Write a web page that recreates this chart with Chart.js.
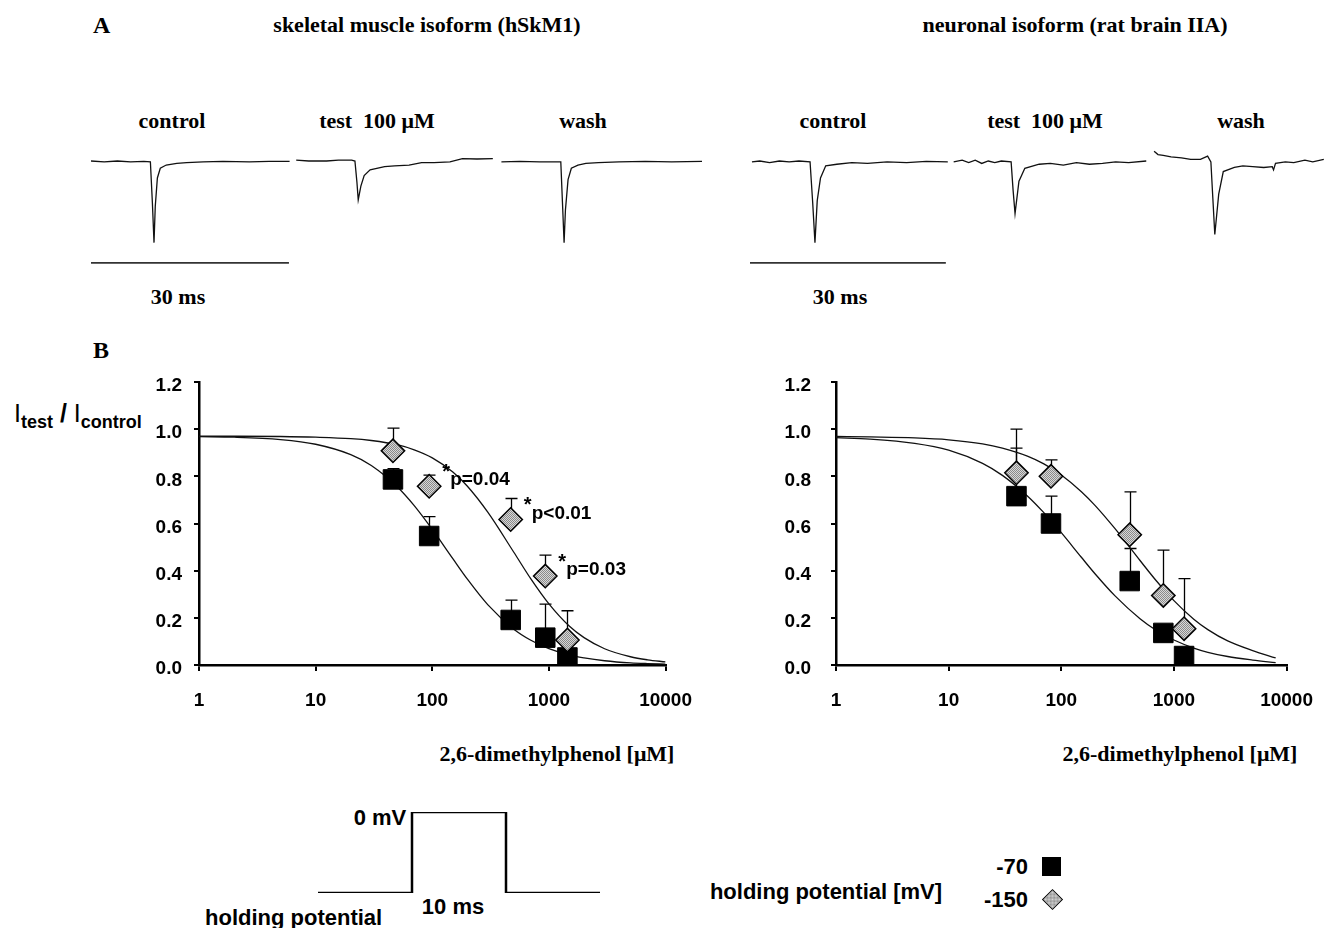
<!DOCTYPE html>
<html>
<head>
<meta charset="utf-8">
<script src="https://cdn.jsdelivr.net/npm/chart.js@4.4.1/dist/chart.umd.min.js"></script>
<style>
  html, body { margin:0; padding:0; background:#fff; }
  body { width:1331px; height:928px; position:relative; overflow:hidden; }
  canvas { position:absolute; }
  .t { position:absolute; white-space:nowrap; line-height:1; color:#000; }
  .serif { font-family:'Liberation Serif','Times New Roman',serif; font-weight:bold; font-size:22px; }
  .sans { font-family:'Liberation Sans',Arial,sans-serif; font-weight:bold; }
  .c { transform:translate(-50%,-50%); }
  .r { transform:translate(-100%,-50%); }
  .l { transform:translate(0,-50%); }
</style>
</head>
<body>
<!-- Panel A text -->
<div class="t serif l" style="left:93px;top:25px;font-size:24px;">A</div>
<div class="t serif c" style="left:427px;top:25px;">skeletal muscle isoform (hSkM1)</div>
<div class="t serif c" style="left:1075px;top:25px;">neuronal isoform (rat brain IIA)</div>
<div class="t serif c" style="left:172px;top:121px;">control</div>
<div class="t serif c" style="left:377px;top:121px;">test&nbsp;&nbsp;100 μM</div>
<div class="t serif c" style="left:583px;top:121px;">wash</div>
<div class="t serif c" style="left:833px;top:121px;">control</div>
<div class="t serif c" style="left:1045px;top:121px;">test&nbsp;&nbsp;100 μM</div>
<div class="t serif c" style="left:1241px;top:121px;">wash</div>
<div class="t serif c" style="left:178px;top:297px;">30 ms</div>
<div class="t serif c" style="left:840px;top:297px;">30 ms</div>
<!-- Panel B text -->
<div class="t serif l" style="left:93px;top:350px;font-size:24px;">B</div>
<div class="t" style="left:14px;top:401px;font-family:'Liberation Sans',Arial,sans-serif;font-size:25px;">I<sub style="font-size:18px;font-weight:bold;">test</sub> <b>/</b> I<sub style="font-size:18px;font-weight:bold;">control</sub></div>
<div class="t serif c" style="left:557px;top:754px;">2,6-dimethylphenol [μM]</div>
<div class="t serif c" style="left:1180px;top:754px;">2,6-dimethylphenol [μM]</div>
<!-- protocol text -->
<div class="t sans c" style="left:380px;top:818px;font-size:22px;">0 mV</div>
<div class="t sans c" style="left:453px;top:907px;font-size:22px;">10 ms</div>
<div class="t sans l" style="left:205px;top:918px;font-size:22px;">holding potential</div>
<!-- legend -->
<div class="t sans c" style="left:826px;top:892px;font-size:22px;">holding potential [mV]</div>
<div class="t sans r" style="left:1028px;top:867px;font-size:22px;">-70</div>
<div class="t sans r" style="left:1028px;top:900px;font-size:22px;">-150</div>
<div style="position:absolute;left:1042px;top:857px;width:19px;height:19px;background:#000;"></div>
<div style="position:absolute;left:1045px;top:892px;width:15px;height:15px;box-sizing:border-box;border:1.5px solid #000;transform:rotate(45deg);background:repeating-conic-gradient(#8a8a8a 0 25%, #d8d8d8 0 50%) 0 0/2px 2px;"></div>

<canvas id="trL" width="611" height="139" style="left:91px;top:140px;"></canvas>
<canvas id="trR" width="581" height="139" style="left:750px;top:140px;"></canvas>
<canvas id="cL" width="610" height="374" style="left:100px;top:348px;"></canvas>
<canvas id="cR" width="591" height="374" style="left:740px;top:348px;"></canvas>
<canvas id="proto" width="286" height="90" style="left:316px;top:808px;"></canvas>

<script>
// ---------------- DATA ----------------
// Panel A traces: time [ms], normalized current
const ctrlL_t = [0, 2, 4, 6, 8, 9.0, 9.3, 9.55, 9.74, 10.06, 10.5, 11.4, 13, 14.5, 17, 20, 24, 27, 30.1];
const ctrlL_i = [0.01, 0, 0.01, 0, 0.005, 0, -0.5, -1.0, -0.55, -0.2, -0.08, -0.04, -0.02, -0.01, 0, 0.005, 0, 0.005, 0.005];
const testL_t = [31.1, 33, 35.7, 37.5, 39.5, 40.0, 40.3, 40.5, 40.9, 41.4, 42.3, 44.5, 46, 48.2, 50.1, 52, 54.4, 56.3, 58.5, 60.9];
const testL_i = [0.02, 0.01, 0.01, 0.02, 0.02, 0.01, -0.25, -0.47, -0.3, -0.17, -0.1, -0.06, -0.05, -0.04, -0.01, -0.01, 0.0, 0.04, 0.035, 0.04];
const washL_t = [62.2, 65, 68, 71.2, 71.45, 71.7, 71.9, 72.3, 72.8, 73.8, 75, 76.9, 80, 84, 88, 92.6];
const washL_i = [0, 0.005, 0, 0, -0.5, -1.0, -0.6, -0.22, -0.08, -0.04, -0.02, -0.01, 0, 0.005, 0, 0.005];

const ctrlR_t = [0.3, 1.5, 3, 4.5, 6, 7.5, 9.2, 9.6, 9.95, 10.3, 10.8, 11.6, 13.3, 15.6, 18, 21, 24, 27, 30.3];
const ctrlR_i = [0.0, 0.01, -0.01, 0.01, 0.0, 0.01, 0.0, -0.5, -1.0, -0.48, -0.2, -0.05, -0.03, -0.01, -0.02, 0.0, -0.01, 0.005, 0.0];
const testR_t = [31.2, 32.5, 33.5, 34.5, 35.5, 36.5, 37.5, 38.5, 40.0, 40.3, 40.6, 41.2, 42.1, 44.3, 46, 48, 50, 52, 54, 56, 58, 60.7];
const testR_i = [0.0, 0.02, -0.01, 0.02, -0.02, 0.01, -0.01, 0.01, 0.0, -0.35, -0.64, -0.24, -0.08, -0.03, -0.02, -0.04, -0.01, -0.03, -0.02, 0.0, -0.01, 0.01];
const washR_t = [61.9, 62.5, 63.3, 64.5, 66.1, 67.5, 69.0, 70.1, 70.6, 70.9, 71.2, 71.8, 72.5, 74.2, 75.5, 77.0, 78.7, 80.0, 80.2, 80.5, 82, 83.3, 85, 86.2, 87.9];
const washR_i = [0.13, 0.09, 0.08, 0.06, 0.05, 0.03, 0.03, 0.07, 0.0, -0.45, -0.9, -0.4, -0.12, -0.07, -0.05, -0.06, -0.07, -0.06, -0.1, -0.02, 0.0, -0.01, 0.02, 0.0, 0.03];

const scaleBar_t = [0, 30];       // 30 ms
const scaleBar_i = [-1.25, -1.25];

// Panel B: concentrations [µM] and I_test/I_control
const concL = [46, 94, 470, 930, 1440];
const sqL = [0.787, 0.547, 0.191, 0.116, 0.032];
const sqErrL = [0.833, 0.629, 0.275, 0.258, null];
const diaL = [0.908, 0.758, 0.617, 0.377, 0.106];
const diaErrL = [1.004, 0.805, 0.706, 0.466, 0.23];

const concR = [40, 81, 405, 805, 1230];
const sqR = [0.716, 0.60, 0.356, 0.136, 0.038];
const sqErrR = [0.92, 0.716, 0.494, null, null];
const diaR = [0.815, 0.80, 0.552, 0.295, 0.154];
const diaErrR = [1.0, 0.87, 0.734, 0.487, 0.366];

// fitted curves
const curveXL = [1, 2, 5, 10, 20, 30, 50, 70, 100, 150, 200, 300, 500, 700, 1000, 1500, 2000, 3000, 5000, 7000, 10000];
const curveLowL = [0.968, 0.966, 0.956, 0.936, 0.892, 0.846, 0.756, 0.676, 0.575, 0.451, 0.364, 0.255, 0.152, 0.105, 0.069, 0.042, 0.030, 0.018, 0.009, 0.006, 0.004];
const curveHighL = [0.970, 0.970, 0.969, 0.966, 0.960, 0.952, 0.934, 0.912, 0.878, 0.818, 0.758, 0.647, 0.478, 0.365, 0.259, 0.164, 0.116, 0.069, 0.035, 0.022, 0.013];
const curveXR = [1, 2, 5, 10, 20, 30, 50, 70, 100, 150, 200, 300, 500, 700, 1000, 1500, 2000, 3000, 5000, 8000];
const curveLowR = [0.964, 0.958, 0.940, 0.911, 0.855, 0.804, 0.717, 0.646, 0.561, 0.458, 0.386, 0.293, 0.196, 0.146, 0.106, 0.072, 0.054, 0.036, 0.021, 0.010];
const curveHighR = [0.969, 0.967, 0.963, 0.955, 0.938, 0.920, 0.886, 0.853, 0.806, 0.736, 0.676, 0.578, 0.443, 0.356, 0.273, 0.194, 0.150, 0.102, 0.061, 0.030];

const noteX = [94, 470, 930];
const noteY = [0.758, 0.617, 0.377];
const noteText = ['p=0.04', 'p<0.01', 'p=0.03'];

const xTickVals = [1, 10, 100, 1000, 10000];
const yTickStep = 0.2;

// Pulse protocol: time [ms], relative voltage (0 = 0 mV, -1 = holding potential)
const protoT = [0, 10, 10, 20, 20, 30];
const protoV = [-1, -1, 0, 0, -1, -1];

// ---------------- RENDER ----------------
Chart.defaults.font.family = "'Liberation Sans', Arial, sans-serif";
Chart.defaults.color = '#000';

const pts = (xs, ys) => xs.map((x, i) => ({x, y: ys[i]}));

function traceChart(id, xmax, traces) {
  const ds = traces.map(([t, i], k) => ({
    data: pts(t, i), showLine: true, pointRadius: 0,
    borderColor: k === traces.length - 1 ? '#333' : '#111',
    borderWidth: k === traces.length - 1 ? 1.6 : 1.3, tension: 0
  }));
  new Chart(document.getElementById(id), {
    type: 'scatter',
    data: { datasets: ds },
    options: {
      responsive: false, animation: false, devicePixelRatio: 1,
      layout: { padding: 0 },
      plugins: { legend: { display: false }, tooltip: { enabled: false } },
      scales: {
        x: { type: 'linear', min: 0, max: xmax, display: false },
        y: { type: 'linear', min: -1.45, max: 0.27, display: false }
      }
    }
  });
}
traceChart('trL', 92.6, [[ctrlL_t, ctrlL_i], [testL_t, testL_i], [washL_t, washL_i], [scaleBar_t, scaleBar_i]]);
traceChart('trR', 89.0, [[ctrlR_t, ctrlR_i], [testR_t, testR_i], [washR_t, washR_i], [scaleBar_t, scaleBar_i]]);

function makePattern(ctx) {
  const pc = document.createElement('canvas');
  pc.width = 2; pc.height = 2;
  const g = pc.getContext('2d');
  g.fillStyle = '#d8d8d8'; g.fillRect(0, 0, 2, 2);
  g.fillStyle = '#8a8a8a'; g.fillRect(0, 0, 1, 1); g.fillRect(1, 1, 1, 1);
  return ctx.createPattern(pc, 'repeat');
}

const errorBarPlugin = {
  id: 'errbars',
  beforeDatasetsDraw(chart) {
    const ctx = chart.ctx, xs = chart.scales.x, ys = chart.scales.y;
    ctx.save();
    ctx.strokeStyle = '#000'; ctx.lineWidth = 1.3;
    chart.data.datasets.forEach(ds => {
      if (!ds.errTop) return;
      ds.data.forEach((p, i) => {
        const top = ds.errTop[i];
        if (top == null) return;
        const px = Math.round(xs.getPixelForValue(p.x)) + 0.5;
        const py = ys.getPixelForValue(p.y);
        const pt = ys.getPixelForValue(top);
        ctx.beginPath();
        ctx.moveTo(px, py); ctx.lineTo(px, pt);
        ctx.moveTo(px - 6, pt); ctx.lineTo(px + 6, pt);
        ctx.stroke();
      });
    });
    ctx.restore();
  }
};

const notePlugin = {
  id: 'notes',
  afterDatasetsDraw(chart, args, opts) {
    if (!opts.x) return;
    const ctx = chart.ctx, xs = chart.scales.x, ys = chart.scales.y;
    ctx.save();
    ctx.fillStyle = '#000';
    ctx.textAlign = 'left'; ctx.textBaseline = 'middle';
    opts.x.forEach((x, i) => {
      const px = xs.getPixelForValue(x), py = ys.getPixelForValue(opts.y[i]);
      ctx.font = "bold 20px 'Liberation Sans', Arial, sans-serif";
      ctx.fillText('*', px + 13, py - 14);
      ctx.font = "bold 19px 'Liberation Sans', Arial, sans-serif";
      ctx.fillText(opts.text[i], px + 21, py - 6);
    });
    ctx.restore();
  }
};

function doseChart(id, conc, sq, sqErr, dia, diaErr, cx, cLow, cHigh, yAxisW, padRight, yPad, notes) {
  const canvas = document.getElementById(id);
  const pattern = makePattern(canvas.getContext('2d'));
  const tickFont = { size: 19, weight: 'bold' };
  new Chart(canvas, {
    type: 'scatter',
    data: {
      datasets: [
        { data: pts(conc, dia), errTop: diaErr, pointStyle: 'rectRot', pointRadius: 11.7,
          backgroundColor: pattern, borderColor: '#000', borderWidth: 1.5, order: 0 },
        { data: pts(conc, sq), errTop: sqErr, pointStyle: 'rect', pointRadius: 13.8,
          backgroundColor: '#000', borderColor: '#000', borderWidth: 1, order: 1 },
        { data: pts(cx, cLow), showLine: true, pointRadius: 0, borderColor: '#111',
          borderWidth: 1.3, cubicInterpolationMode: 'monotone', order: 2 },
        { data: pts(cx, cHigh), showLine: true, pointRadius: 0, borderColor: '#111',
          borderWidth: 1.3, cubicInterpolationMode: 'monotone', order: 3 }
      ]
    },
    options: {
      responsive: false, animation: false, devicePixelRatio: 1,
      layout: { padding: { left: 0, right: padRight, top: 34, bottom: 0 } },
      plugins: { legend: { display: false }, tooltip: { enabled: false }, notes: notes || {} },
      scales: {
        x: {
          type: 'logarithmic', min: 1, max: 10000,
          afterBuildTicks: s => { s.ticks = xTickVals.map(v => ({ value: v })); },
          afterFit: s => { s.height = 57; },
          ticks: { callback: v => String(v), font: tickFont, color: '#000', padding: 18, maxRotation: 0, autoSkip: false },
          grid: { drawOnChartArea: false, drawTicks: true, tickLength: 6, color: '#000', lineWidth: 2 },
          border: { display: true, color: '#000', width: 2.5 }
        },
        y: {
          type: 'linear', min: 0, max: 1.2,
          afterFit: s => { s.width = yAxisW; },
          ticks: { stepSize: yTickStep, callback: v => v.toFixed(1), font: tickFont, color: '#000', padding: yPad, labelOffset: 4 },
          grid: { drawOnChartArea: false, drawTicks: true, tickLength: 5, color: '#000', lineWidth: 2 },
          border: { display: true, color: '#000', width: 2.5 }
        }
      }
    },
    plugins: [errorBarPlugin, notePlugin]
  });
}
doseChart('cL', concL, sqL, sqErrL, diaL, diaErrL, curveXL, curveLowL, curveHighL, 99, 33, 12,
  { x: noteX, y: noteY, text: noteText });
doseChart('cR', concR, sqR, sqErrR, diaR, diaErrR, curveXR, curveLowR, curveHighR, 96, 28, 20, null);

new Chart(document.getElementById('proto'), {
  type: 'scatter',
  data: { datasets: [{ data: pts(protoT, protoV), showLine: true, pointRadius: 0,
    borderColor: '#000', borderWidth: 2.5, borderJoinStyle: 'miter', tension: 0 }] },
  options: {
    responsive: false, animation: false, devicePixelRatio: 1,
    layout: { padding: { left: 2, right: 2, top: 4, bottom: 5 } },
    plugins: { legend: { display: false }, tooltip: { enabled: false } },
    scales: {
      x: { type: 'linear', min: 0, max: 30, display: false },
      y: { type: 'linear', min: -1, max: 0, display: false }
    }
  }
});
</script>
</body>
</html>
